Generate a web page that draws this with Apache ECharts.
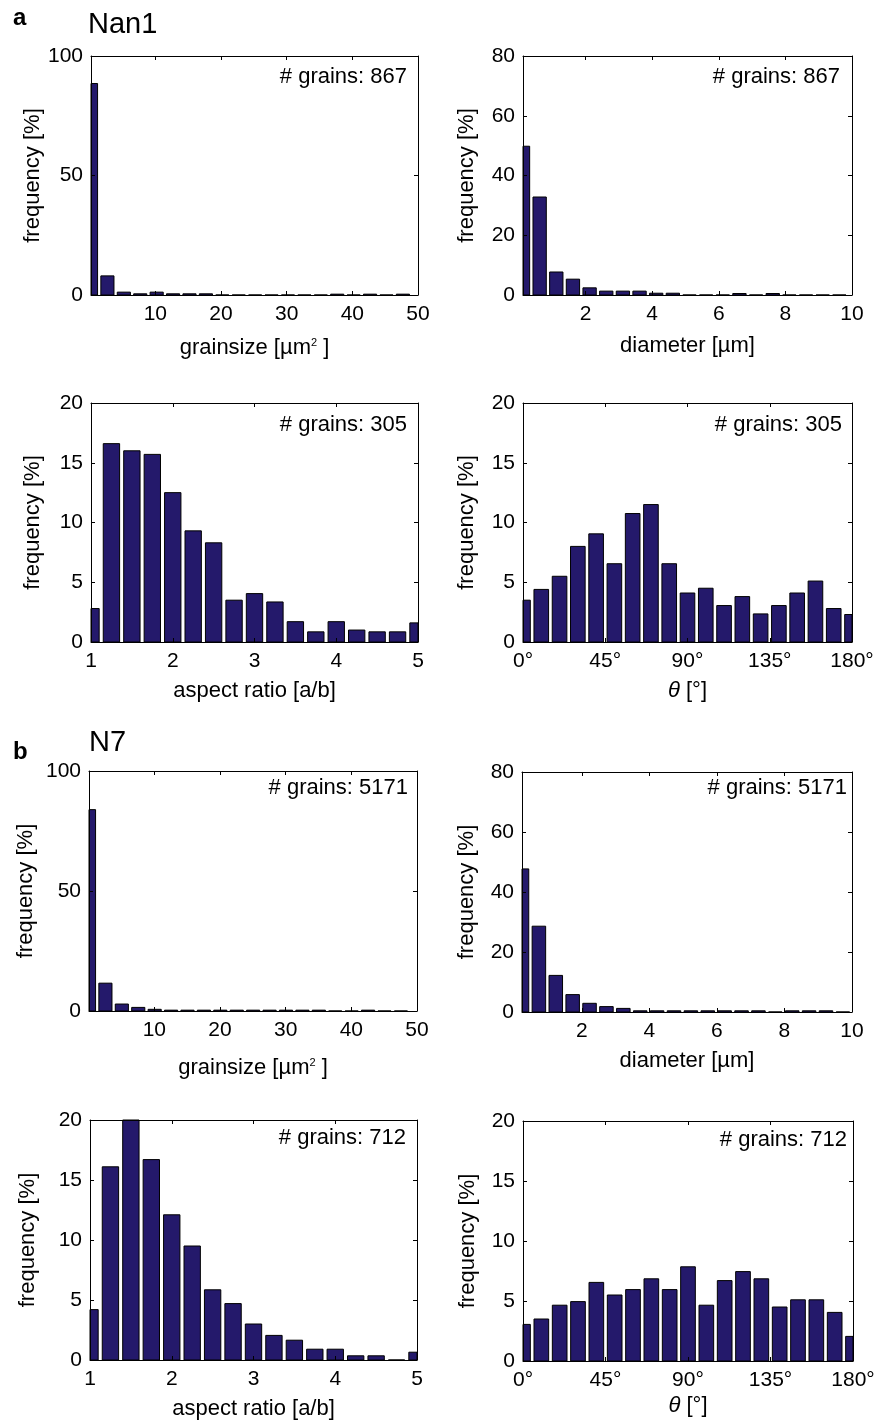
<!DOCTYPE html>
<html><head><meta charset="utf-8">
<script src="https://cdn.jsdelivr.net/npm/echarts@6/dist/echarts.min.js"></script>
<style>html,body{margin:0;padding:0;background:#fff}#c{width:880px;height:1423px}</style>
</head><body><div id="c"></div>
<script>
const FONT = '"Liberation Sans", Arial, Helvetica, sans-serif';

// ---------- data (bin centres and frequencies in %) ----------
const nan1GrainsizeCenters = [0.2,2.7,5.2,7.7,10.2,12.7,15.2,17.7,20.2,22.7,25.2,27.7,30.2,32.7,35.2,37.7,40.2,42.7,45.2,47.7];
const nan1GrainsizeFreq    = [88.5,8.0,1.2,0.5,1.2,0.5,0.5,0.5,0,0,0,0,0,0,0,0.35,0,0.35,0,0.35];
const nan1DiameterCenters  = [0.12,0.62,1.12,1.62,2.12,2.62,3.12,3.62,4.12,4.62,5.12,5.62,6.12,6.62,7.12,7.62,8.12,8.62,9.12,9.62];
const nan1DiameterFreq     = [49.8,32.8,7.7,5.3,2.4,1.3,1.3,1.3,0.6,0.6,0,0,0,0.5,0,0.5,0,0,0,0];
const nan1AspectCenters    = [1,1.25,1.5,1.75,2,2.25,2.5,2.75,3,3.25,3.5,3.75,4,4.25,4.5,4.75,5];
const nan1AspectFreq       = [2.8,16.6,16.0,15.7,12.5,9.3,8.3,3.5,4.05,3.35,1.7,0.85,1.7,1.0,0.85,0.85,1.6];
const nan1ThetaCenters     = [0,10,20,30,40,50,60,70,80,90,100,110,120,130,140,150,160,170,180];
const nan1ThetaFreq        = [3.5,4.4,5.5,8.0,9.05,6.55,10.75,11.5,6.55,4.1,4.5,3.05,3.8,2.35,3.05,4.1,5.1,2.8,2.3];

const n7GrainsizeCenters = [0.05,2.55,5.05,7.55,10.05,12.55,15.05,17.55,20.05,22.55,25.05,27.55,30.05,32.55,35.05,37.55,40.05,42.55,45.05,47.55];
const n7GrainsizeFreq    = [83.9,11.6,2.9,1.5,0.7,0.35,0.35,0.35,0.35,0.35,0.35,0.35,0.35,0.35,0.35,0,0,0.35,0,0];
const n7DiameterCenters  = [0.23,0.73,1.23,1.73,2.23,2.73,3.23,3.73,4.23,4.73,5.23,5.73,6.23,6.73,7.23,7.73,8.23,8.73,9.23,9.73];
const n7DiameterFreq     = [47.7,28.6,12.2,5.8,2.9,1.8,1.2,0.4,0.4,0.4,0.4,0.4,0.4,0.4,0.4,0,0.4,0.4,0.4,0];
const n7AspectCenters    = [1,1.25,1.5,1.75,2,2.25,2.5,2.75,3,3.25,3.5,3.75,4,4.25,4.5,4.75,5];
const n7AspectFreq       = [4.2,16.1,20.3,16.7,12.1,9.5,5.85,4.7,3.0,2.05,1.65,0.9,0.9,0.35,0.35,0,0.65];
const n7ThetaCenters     = [0,10,20,30,40,50,60,70,80,90,100,110,120,130,140,150,160,170,180];
const n7ThetaFreq        = [3.05,3.5,4.65,4.95,6.55,5.5,5.95,6.85,5.95,7.85,4.65,6.7,7.45,6.85,4.5,5.1,5.1,4.05,2.05];

// bin widths (data units)
const binWidths = { grainsize: 2.5, diameter: 0.5, aspect: 0.25, theta: 10 };

// tick values
const grainsizeTicks = [10,20,30,40,50];
const diameterTicks  = [2,4,6,8,10];
const aspectTicks    = [1,2,3,4,5];
const thetaTicks     = [0,45,90,135,180];
const yTicks100 = [0,50,100];
const yTicks80  = [0,20,40,60,80];
const yTicks20  = [0,5,10,15,20];

const grainCounts = { nan1Size: 867, nan1Shape: 305, n7Size: 5171, n7Shape: 712 };

// ---------- layout ----------
const panels = [
  {grid:{left:91,top:56,width:327,height:239}, cx:nan1GrainsizeCenters, fy:nan1GrainsizeFreq, bw:binWidths.grainsize,
   xmin:0.2,xmax:50,xt:grainsizeTicks, ymax:100, yt:yTicks100, xname:'grainsize [µm{sup|2} ]', xgap:42, ygap:47,
   n:grainCounts.nan1Size, tx:407, ty:77},
  {grid:{left:523,top:56,width:329,height:239}, cx:nan1DiameterCenters, fy:nan1DiameterFreq, bw:binWidths.diameter,
   xmin:0.12,xmax:10,xt:diameterTicks, ymax:80, yt:yTicks80, xname:'diameter [µm]', xgap:40, ygap:45,
   n:grainCounts.nan1Size, tx:840, ty:77},
  {grid:{left:91,top:403,width:327,height:239}, cx:nan1AspectCenters, fy:nan1AspectFreq, bw:binWidths.aspect,
   xmin:1,xmax:5,xt:aspectTicks, ymax:20, yt:yTicks20, xname:'aspect ratio [a/b]', xgap:38, ygap:47,
   n:grainCounts.nan1Shape, tx:407, ty:425},
  {grid:{left:523,top:403,width:329,height:239}, cx:nan1ThetaCenters, fy:nan1ThetaFreq, bw:binWidths.theta,
   xmin:0,xmax:180,xt:thetaTicks, deg:true, ymax:20, yt:yTicks20, xname:'{it|θ} [°]', xgap:38, ygap:45,
   n:grainCounts.nan1Shape, tx:842, ty:425},
  {grid:{left:89,top:771,width:328,height:240}, cx:n7GrainsizeCenters, fy:n7GrainsizeFreq, bw:binWidths.grainsize,
   xmin:0.05,xmax:50,xt:grainsizeTicks, ymax:100, yt:yTicks100, xname:'grainsize [µm{sup|2} ]', xgap:46, ygap:52,
   n:grainCounts.n7Size, tx:408, ty:788},
  {grid:{left:522,top:772,width:330,height:240}, cx:n7DiameterCenters, fy:n7DiameterFreq, bw:binWidths.diameter,
   xmin:0.23,xmax:10,xt:diameterTicks, ymax:80, yt:yTicks80, xname:'diameter [µm]', xgap:38, ygap:44,
   n:grainCounts.n7Size, tx:847, ty:788},
  {grid:{left:90,top:1120,width:327,height:240}, cx:n7AspectCenters, fy:n7AspectFreq, bw:binWidths.aspect,
   xmin:1,xmax:5,xt:aspectTicks, ymax:20, yt:yTicks20, xname:'aspect ratio [a/b]', xgap:38, ygap:51,
   n:grainCounts.n7Shape, tx:406, ty:1138},
  {grid:{left:523,top:1121,width:330,height:240}, cx:n7ThetaCenters, fy:n7ThetaFreq, bw:binWidths.theta,
   xmin:0,xmax:180,xt:thetaTicks, deg:true, ymax:20, yt:yTicks20, xname:'{it|θ} [°]', xgap:34, ygap:44,
   n:grainCounts.n7Shape, tx:847, ty:1140}
];

const BAR = '#24196b';
const txt = {color:'#000', fontFamily:FONT, fontSize:21};
const nameStyle = {color:'#000', fontFamily:FONT, fontSize:22,
  rich:{sup:{fontSize:11, fontFamily:FONT, color:'#000', verticalAlign:'top', padding:[0,0,10,0]},
        it:{fontStyle:'italic', fontSize:22, fontFamily:FONT, color:'#000'}}};

function renderBar(params, api){
  const x = api.value(0), y = api.value(1), w = api.value(2)*0.8;
  const p0 = api.coord([x - w/2, y]);
  const p1 = api.coord([x + w/2, 0]);
  const cs = params.coordSys;
  const r = echarts.graphic.clipRectByRect(
    {x:p0[0], y:p0[1], width:p1[0]-p0[0], height:p1[1]-p0[1]},
    {x:cs.x, y:cs.y, width:cs.width, height:cs.height});
  if (!r) return null;
  return {type:'rect', shape:r, style:{fill:BAR, stroke:'#000', lineWidth:1}};
}

const grid=[], xAxis=[], yAxis=[], series=[], graphic=[];
panels.forEach((p,i)=>{
  grid.push(Object.assign({containLabel:false}, p.grid));
  const fmt = p.deg ? (v=>v+'°') : (v=>String(v));
  const common = {gridIndex:i, type:'value', min:p.xmin, max:p.xmax, z:5,
    axisLine:{show:true, onZero:false, lineStyle:{color:'#000', width:1}},
    axisTick:{show:true, inside:true, length:4, lineStyle:{color:'#000'}, customValues:p.xt},
    splitLine:{show:false}};
  xAxis.push(Object.assign({}, common, {position:'bottom',
    axisLabel:{show:true, margin:9, customValues:p.xt, formatter:fmt, ...txt},
    name:p.xname, nameLocation:'middle', nameGap:p.xgap, nameTextStyle:nameStyle}));
  xAxis.push(Object.assign({}, common, {position:'top', axisLabel:{show:false}}));
  const ycommon = {gridIndex:i, type:'value', min:0, max:p.ymax, z:5,
    axisLine:{show:true, onZero:false, lineStyle:{color:'#000', width:1}},
    axisTick:{show:true, inside:true, length:4, lineStyle:{color:'#000'}, customValues:p.yt},
    splitLine:{show:false}};
  yAxis.push(Object.assign({}, ycommon, {position:'left',
    axisLabel:{show:true, margin:8, customValues:p.yt, ...txt},
    name:'frequency [%]', nameLocation:'middle', nameGap:p.ygap, nameRotate:90, nameTextStyle:nameStyle}));
  yAxis.push(Object.assign({}, ycommon, {position:'right', axisLabel:{show:false}}));
  series.push({type:'custom', xAxisIndex:2*i, yAxisIndex:2*i, renderItem:renderBar,
    data:p.cx.map((c,k)=>[c, p.fy[k], p.bw]), silent:true, z:2});
  graphic.push({type:'text', x:p.tx, y:p.ty, z:10,
    style:{text:'# grains: '+p.n, font:'22px '+FONT, fill:'#000', align:'right', verticalAlign:'middle'}});
});

graphic.push({type:'text', x:13, y:18, style:{text:'a', font:'bold 24px '+FONT, fill:'#000', align:'left', verticalAlign:'middle'}});
graphic.push({type:'text', x:88, y:25, style:{text:'Nan1', font:'29px '+FONT, fill:'#000', align:'left', verticalAlign:'middle'}});
graphic.push({type:'text', x:13, y:752, style:{text:'b', font:'bold 24px '+FONT, fill:'#000', align:'left', verticalAlign:'middle'}});
graphic.push({type:'text', x:89, y:743, style:{text:'N7', font:'29px '+FONT, fill:'#000', align:'left', verticalAlign:'middle'}});

const chart = echarts.init(document.getElementById('c'), null, {renderer:'canvas'});
chart.setOption({animation:false, backgroundColor:'#fff', grid, xAxis, yAxis, series, graphic});
</script></body></html>
